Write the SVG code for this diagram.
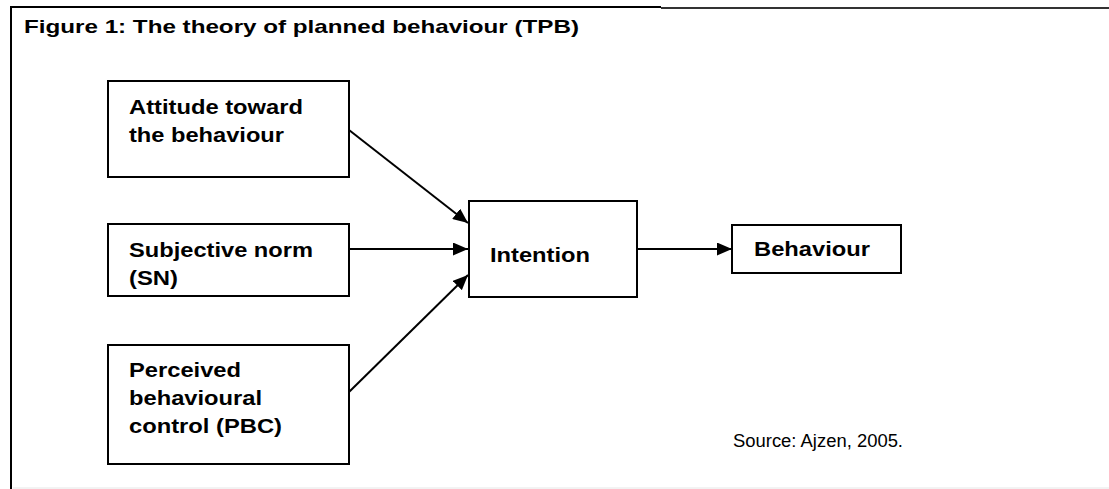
<svg xmlns="http://www.w3.org/2000/svg" width="1109" height="489" viewBox="0 0 1109 489">
<style>
  .box { fill: #ffffff; stroke: #000000; stroke-width: 2; }
  .lbl { font-family: "Liberation Sans", Arial, sans-serif; font-weight: bold; font-size: 20.5px; fill: #000000; }
  .title { font-family: "Liberation Sans", Arial, sans-serif; font-weight: bold; font-size: 19px; fill: #000000; }
  .src { font-family: "Liberation Sans", Arial, sans-serif; font-size: 18px; fill: #000000; }
  .edge { stroke: #000000; stroke-width: 2; fill: none; marker-end: url(#arrow); }
</style>
<defs>
  <marker id="arrow" markerUnits="userSpaceOnUse" markerWidth="15" markerHeight="13" refX="15" refY="6.5" orient="auto">
    <path d="M0,0 L15,6.5 L0,13 Z" fill="#000000"/>
  </marker>
</defs>
<rect x="0" y="0" width="1109" height="489" fill="#ffffff"/>
<g id="frame">
  <line x1="11" y1="6" x2="11" y2="489" stroke="#000000" stroke-width="2"/>
  <line x1="10" y1="7" x2="661" y2="7" stroke="#000000" stroke-width="2"/>
  <line x1="661" y1="8" x2="1109" y2="8" stroke="#333333" stroke-width="2"/>
  <line x1="13" y1="488" x2="1109" y2="488" stroke="#e6e6e6" stroke-width="1"/>
</g>
<g id="title">
  <text class="title" x="24" y="33" textLength="555" lengthAdjust="spacingAndGlyphs">Figure 1: The theory of planned behaviour (TPB)</text>
</g>
<g id="connectors">
  <line class="edge" x1="349" y1="130" x2="468" y2="223"/>
  <line class="edge" x1="349" y1="249" x2="468" y2="249"/>
  <line class="edge" x1="349" y1="392" x2="468" y2="275"/>
  <line class="edge" x1="637" y1="249" x2="732" y2="249"/>
</g>
<g id="attitude">
  <rect class="box" x="108" y="81" width="241" height="96"/>
  <text class="lbl" x="129" y="114" textLength="174" lengthAdjust="spacingAndGlyphs">Attitude toward</text>
  <text class="lbl" x="129" y="142" textLength="155" lengthAdjust="spacingAndGlyphs">the behaviour</text>
</g>
<g id="subjective-norm">
  <rect class="box" x="108" y="224" width="241" height="72"/>
  <text class="lbl" x="129" y="257" textLength="184" lengthAdjust="spacingAndGlyphs">Subjective norm</text>
  <text class="lbl" x="129" y="285" textLength="49" lengthAdjust="spacingAndGlyphs">(SN)</text>
</g>
<g id="pbc">
  <rect class="box" x="108" y="345" width="241" height="119"/>
  <text class="lbl" x="129" y="377" textLength="112" lengthAdjust="spacingAndGlyphs">Perceived</text>
  <text class="lbl" x="129" y="405" textLength="133" lengthAdjust="spacingAndGlyphs">behavioural</text>
  <text class="lbl" x="129" y="433" textLength="153" lengthAdjust="spacingAndGlyphs">control (PBC)</text>
</g>
<g id="intention">
  <rect class="box" x="469" y="201" width="168" height="96"/>
  <text class="lbl" x="490" y="262" textLength="100" lengthAdjust="spacingAndGlyphs">Intention</text>
</g>
<g id="behaviour">
  <rect class="box" x="732" y="225" width="169" height="48"/>
  <text class="lbl" x="754" y="256" textLength="116" lengthAdjust="spacingAndGlyphs">Behaviour</text>
</g>
<g id="source">
  <text class="src" x="733" y="447" textLength="170" lengthAdjust="spacingAndGlyphs">Source: Ajzen, 2005.</text>
</g>
</svg>
